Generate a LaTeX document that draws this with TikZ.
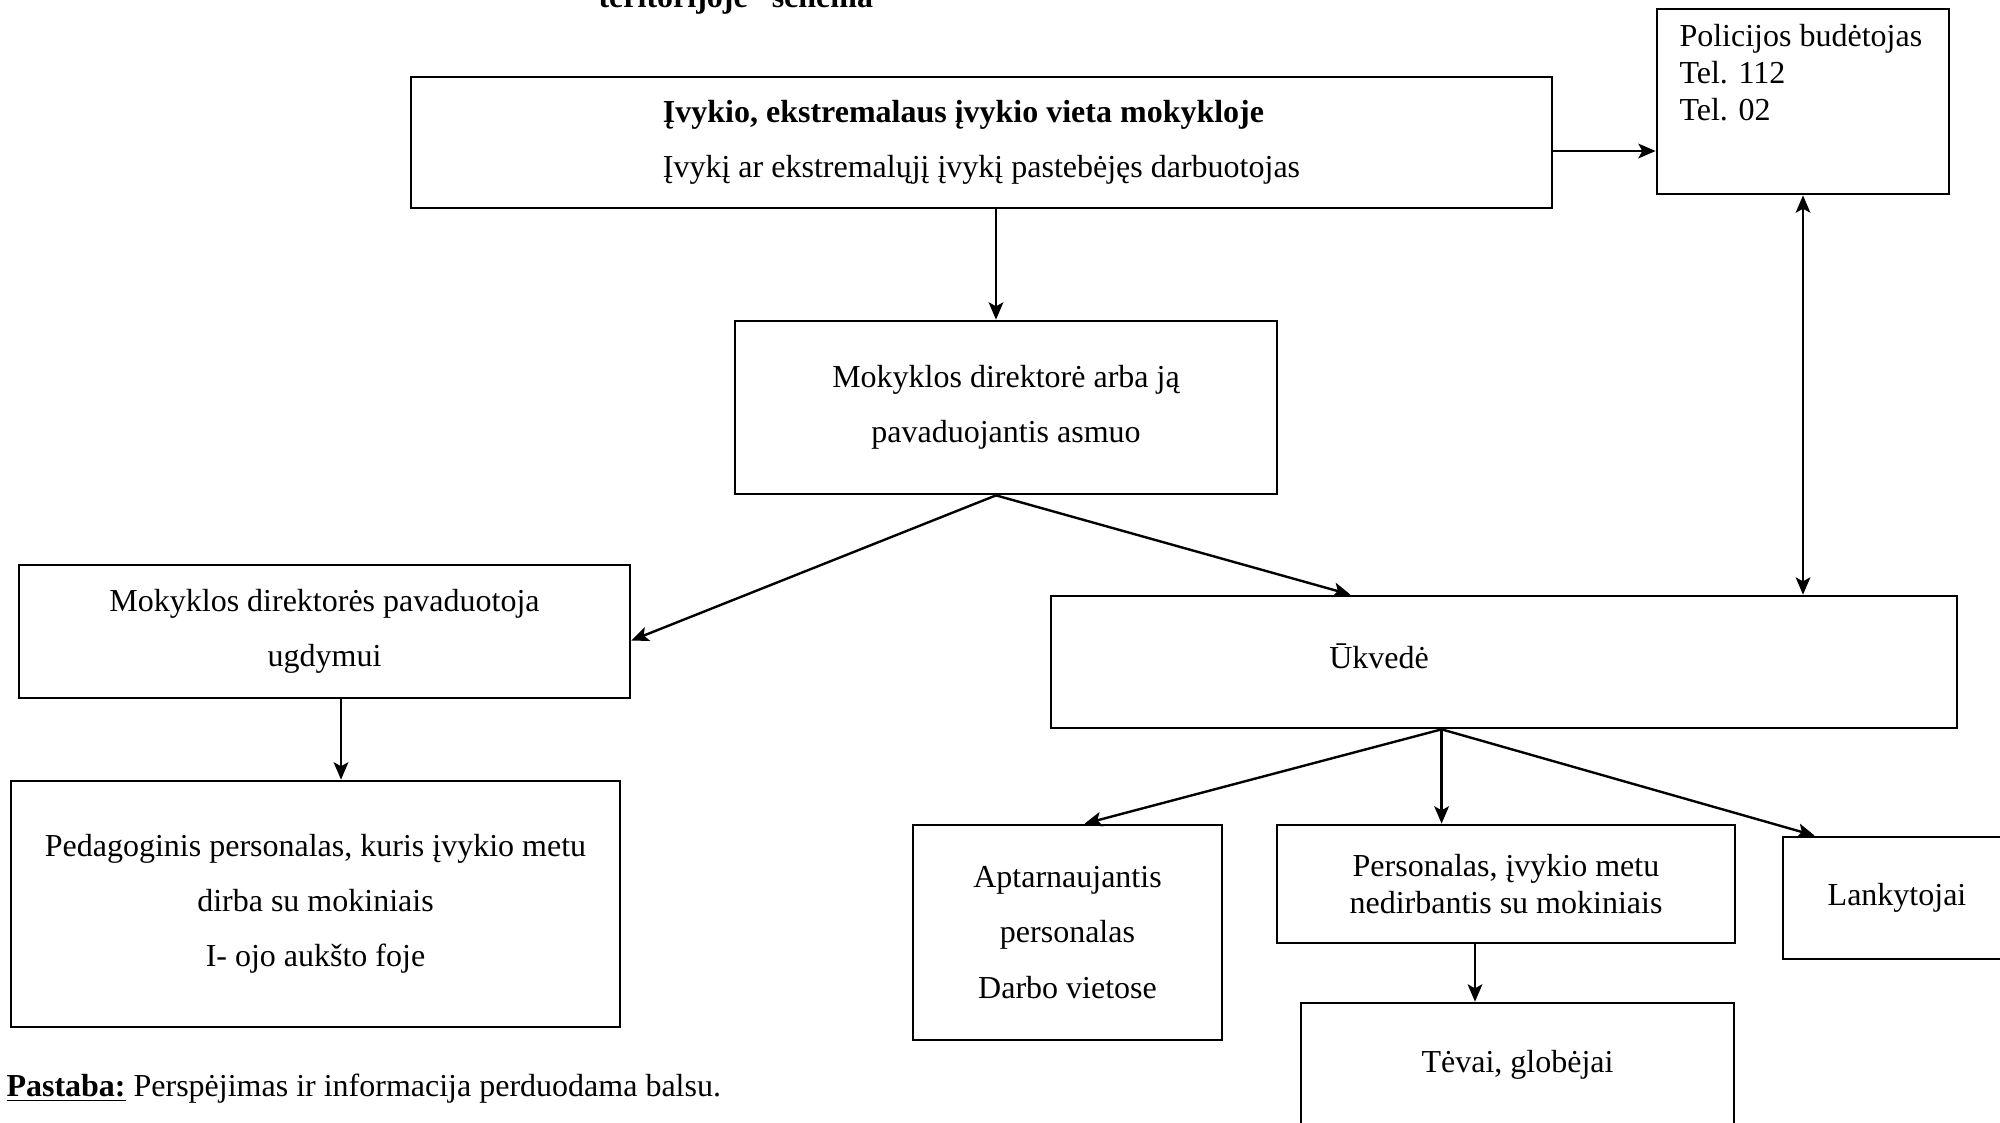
\documentclass[tikz,border=0pt]{standalone}
\usepackage{fontspec}
\setmainfont{Liberation Serif}
\usetikzlibrary{arrows.meta,calc}
\tikzset{
  box/.style={shape=rectangle,draw,line width=1pt,inner sep=2pt,align=center,font=\fontsize{12}{13.8}\selectfont},
  txt/.style={inner sep=0pt,font=\fontsize{12}{13.8}\selectfont},
  arr/.style={-{Stealth[length=6.5pt,width=5.5pt,inset=1.5pt]},line width=0.9pt},
  dbl/.style={{Stealth[length=6.5pt,width=5.5pt,inset=1.5pt]}-{Stealth[length=6.5pt,width=5.5pt,inset=1.5pt]},line width=0.9pt}
}
\begin{document}
\begin{tikzpicture}[x=0.375pt,y=-0.375pt]
\useasboundingbox (0,0) rectangle (2000,1122);
\clip (0,0) rectangle (2000,1122);
\node(title) at (598,7)[txt,anchor=base west,font=\fontsize{12}{13.8}\selectfont\bfseries]{teritorijoje“ schema};
\node(event) at (981.5,142.5)[box,align=left,minimum width=427.9pt,minimum height=49.1pt]{\textbf{Įvykio, ekstremalaus įvykio vieta mokykloje}\\[6.9pt]Įvykį ar ekstremalųjį įvykį pastebėjęs darbuotojas};
\node(police) at (1803,101.5)[box,minimum width=109.5pt,minimum height=69.4pt]{};
\node(policetext) at (1679,24)[txt,anchor=north west,align=left]{Policijos budėtojas\\Tel. 112\\Tel. 02};
\node(director) at (1006,407.5)[box,minimum width=203.3pt,minimum height=64.9pt]{Mokyklos direktorė arba ją\\[6.9pt]pavaduojantis asmuo};
\node(deputy) at (324.5,631.5)[box,minimum width=229.1pt,minimum height=49.9pt]{Mokyklos direktorės pavaduotoja\\[6.9pt]ugdymui};
\node(pedagog) at (315.5,904)[box,minimum width=228.4pt,minimum height=92.3pt]{Pedagoginis personalas, kuris įvykio metu\\[6.9pt]dirba su mokiniais\\[6.9pt]I- ojo aukšto foje};
\node(ukvede) at (1504,662)[box,minimum width=339.8pt,minimum height=49.5pt]{};
\node(ukvlabel) at (1379,668)[txt,anchor=base]{Ūkvedė};
\node(aptarn) at (1067.5,932.5)[box,minimum width=115.9pt,minimum height=80.6pt]{Aptarnaujantis\\[6.9pt]personalas\\[6.9pt]Darbo vietose};
\node(personalas) at (1506,884)[box,minimum width=171.8pt,minimum height=44.3pt]{Personalas, įvykio metu\\nedirbantis su mokiniais};
\node(lank) at (1897,898)[box,minimum width=85.5pt,minimum height=45.8pt]{Lankytojai};
\node(tevai) at (1517.5,1065)[box,minimum width=162.4pt,minimum height=46.5pt]{Tėvai, globėjai};
\node(note) at (6,1096)[txt,anchor=base west]{\textbf{\underline{Pastaba:}} Perspėjimas ir informacija perduodama balsu.};

\coordinate(eout) at ($(event.east)+(0,8.5)$);
\coordinate(dtop) at ($(director.north)+(-10,0)$);
\coordinate(dbot) at ($(director.south)+(-10,0)$);
\coordinate(deptop) at ($(deputy.south)+(16.5,0)$);
\coordinate(ubot) at ($(ukvede.south west)+(392,0)$);
\coordinate(pbot) at ($(personalas.south)+(-31,0)$);
\path [arr]
  (eout)          edge  (eout -| police.west)
  (event.south -| dtop) edge (dtop)
  (dbot)          edge  ($(deputy.east)+(0,9)$)
  (dbot)          edge  ($(ukvede.north west)+(301,0)$)
  (deptop)        edge  (deptop |- pedagog.north)
  (ubot)          edge  ($(aptarn.north)+(17,0)$)
  (ubot)          edge  (ubot |- personalas.north)
  (ubot)          edge  ($(lank.north west)+(33,0)$)
  (pbot)          edge  (pbot |- tevai.north);
\path [dbl]
  (ukvede.north -| police.south) edge (police.south);
\end{tikzpicture}
\end{document}
